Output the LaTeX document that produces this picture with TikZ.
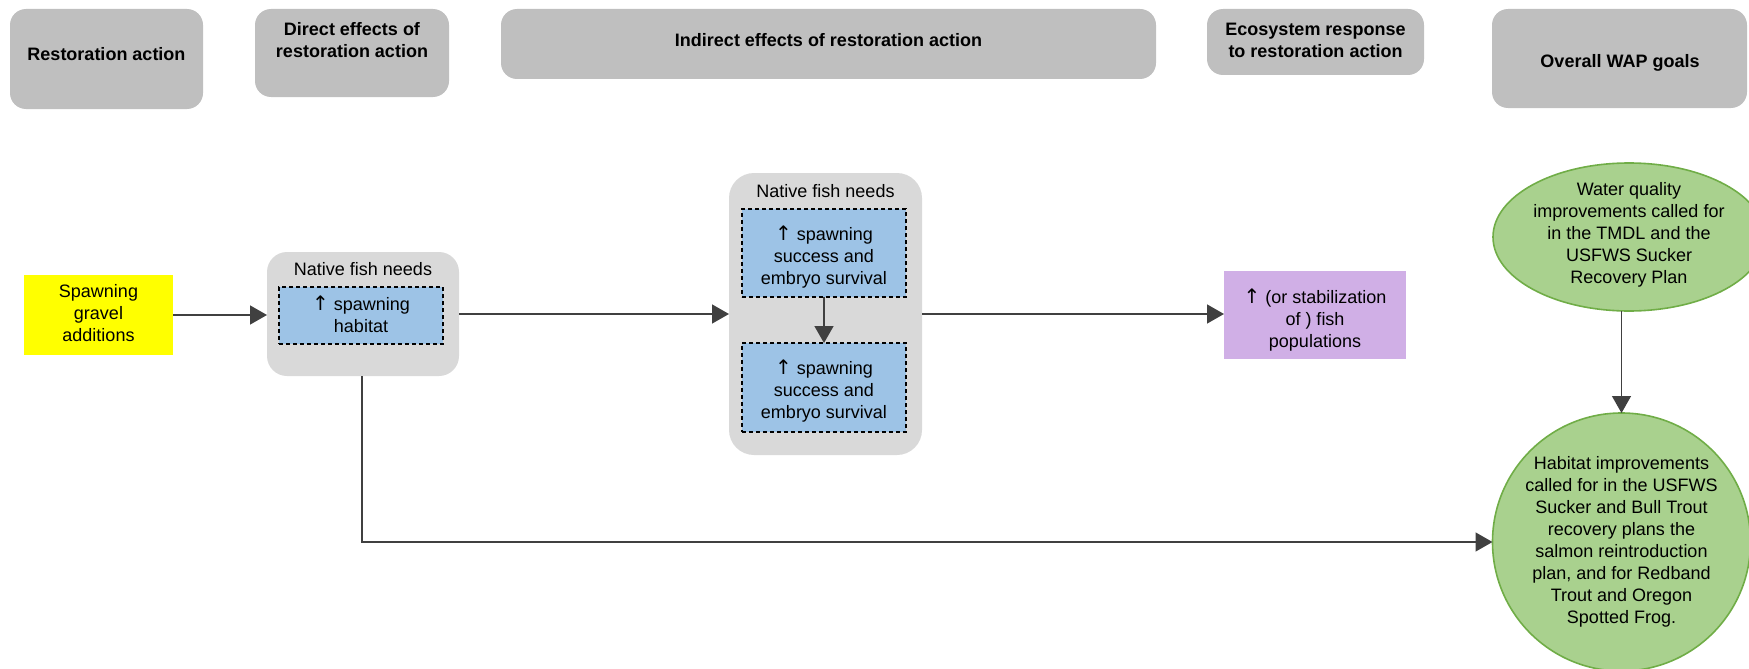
\documentclass[tikz,border=0pt]{standalone}
\usepackage{fontspec}
\setmainfont{Liberation Sans}
\newfontfamily\arrowfont{DejaVu Sans}
\usetikzlibrary{arrows.meta,shapes.geometric,calc}

\definecolor{hdrgray}{HTML}{BFBFBF}
\definecolor{boxgray}{HTML}{D9D9D9}
\definecolor{needblue}{HTML}{9DC3E6}
\definecolor{actyellow}{HTML}{FFFF00}
\definecolor{resppurple}{HTML}{D0AFE6}
\definecolor{goalgreen}{HTML}{A9D18E}
\definecolor{goaledge}{HTML}{70AD47}
\definecolor{linkgray}{HTML}{404040}

% upward arrow glyph used for "increase"
\newcommand{\incr}{{\arrowfont\fontsize{20}{22}\selectfont\char"2191}}

\begin{document}
\begin{tikzpicture}[x=1pt,y=-1pt,
  every node/.style={inner sep=0pt, outer sep=0pt},
  txt/.style={align=center, font=\fontsize{18}{22}\selectfont,
    execute at begin node=\strut, execute at end node=\strut},
  hdrtxt/.style={txt, font=\fontsize{18}{22}\selectfont\bfseries},
  hdr/.style={rectangle, fill=hdrgray, rounded corners=16pt},
  group/.style={rectangle, fill=boxgray, rounded corners=22pt},
  need/.style={rectangle, fill=needblue, draw=black, line width=1.3pt,
    dash pattern=on 4pt off 3pt},
  action/.style={rectangle, fill=actyellow},
  response/.style={rectangle, fill=resppurple},
  goal/.style={ellipse, fill=goalgreen, draw=goaledge, line width=1.6pt},
  link/.style={draw=linkgray, line width=1.5pt,
    -{Triangle[length=17pt,width=19pt]}},
]
\useasboundingbox (0,0) rectangle (1749,669);

% column headings
\node[hdr, minimum width=193pt, minimum height=100pt] (h1) at (106.5,59) {};
\node[hdrtxt] (h1t) at (106.5,55.6) {Restoration action};
\node[hdr, minimum width=194pt, minimum height=88pt] (h2) at (352,53) {};
\node[hdrtxt] (h2t) at (352,43.6) {Direct effects of\\restoration action};
\node[hdr, minimum width=655pt, minimum height=70pt] (h3) at (828.5,44) {};
\node[hdrtxt] (h3t) at (828.5,42) {Indirect effects of restoration action};
\node[hdr, minimum width=217pt, minimum height=66pt] (h4) at (1315.5,42) {};
\node[hdrtxt] (h4t) at (1315.5,43.6) {Ecosystem response\\to restoration action};
\node[hdr, minimum width=255pt, minimum height=99pt] (h5) at (1619.5,58.5) {};
\node[hdrtxt] (h5t) at (1620,63) {Overall WAP goals};

% restoration action
\node[action, minimum width=149pt, minimum height=80pt] (gravel) at (98.5,315) {};
\node[txt] (gravelt) at (98.5,316) {Spawning\\gravel\\additions};

% direct effects
\node[group, minimum width=192pt, minimum height=124pt, rounded corners=20pt] (g1) at (363,314) {};
\node[txt] (g1t) at (363,271) {Native fish needs};
\node[need, minimum width=164pt, minimum height=57pt] (n1) at (361,315.5) {};
\node[txt] (n1t) at (361,317) {\incr{} spawning\\habitat};

% indirect effects
\node[group, minimum width=193pt, minimum height=282pt, rounded corners=25pt] (g2) at (825.5,314) {};
\node[txt] (g2t) at (825.5,193) {Native fish needs};
\node[need, minimum width=164pt, minimum height=88pt] (nA) at (824,253) {};
\node[txt] (nAt) at (824,258) {\incr{} spawning\\success and\\embryo survival};
\node[need, minimum width=164pt, minimum height=89pt] (nB) at (824,387.5) {};
\node[txt] (nBt) at (824,392) {\incr{} spawning\\success and\\embryo survival};

% ecosystem response
\node[response, minimum width=182pt, minimum height=88pt] (pop) at (1315,315) {};
\node[txt] (popt) at (1315,321) {\incr{} (or stabilization\\of ) fish\\populations};

% overall goals
\node[goal, minimum width=272pt, minimum height=148pt] (wq) at (1629,237) {};
\node[txt] (wqt) at (1629,236.6) {Water quality\\improvements called for\\in the TMDL and the\\USFWS Sucker\\Recovery Plan};
\node[goal, circle, minimum size=258pt] (hab) at (1621.5,542) {};
\node[txt] (habt) at (1621.5,543.6) {Habitat improvements\\called for in the USFWS\\Sucker and Bull Trout\\recovery plans the\\salmon reintroduction\\plan, and for Redband\\Trout and Oregon\\Spotted Frog.};

% connectors
\draw[link] (gravel.east) -- (gravel.east -| g1.west);
\draw[link] (g1.east) -- (g1.east -| g2.west);
\draw[link] (nA.south) -- (nB.north);
\draw[link] (g2.east) -- (g2.east -| pop.west);
\draw[link] (hab.north |- wq.south) -- (hab.north);
\coordinate (drop) at (362,376);
\draw[link] (drop) |- (hab.west);
\end{tikzpicture}
\end{document}
